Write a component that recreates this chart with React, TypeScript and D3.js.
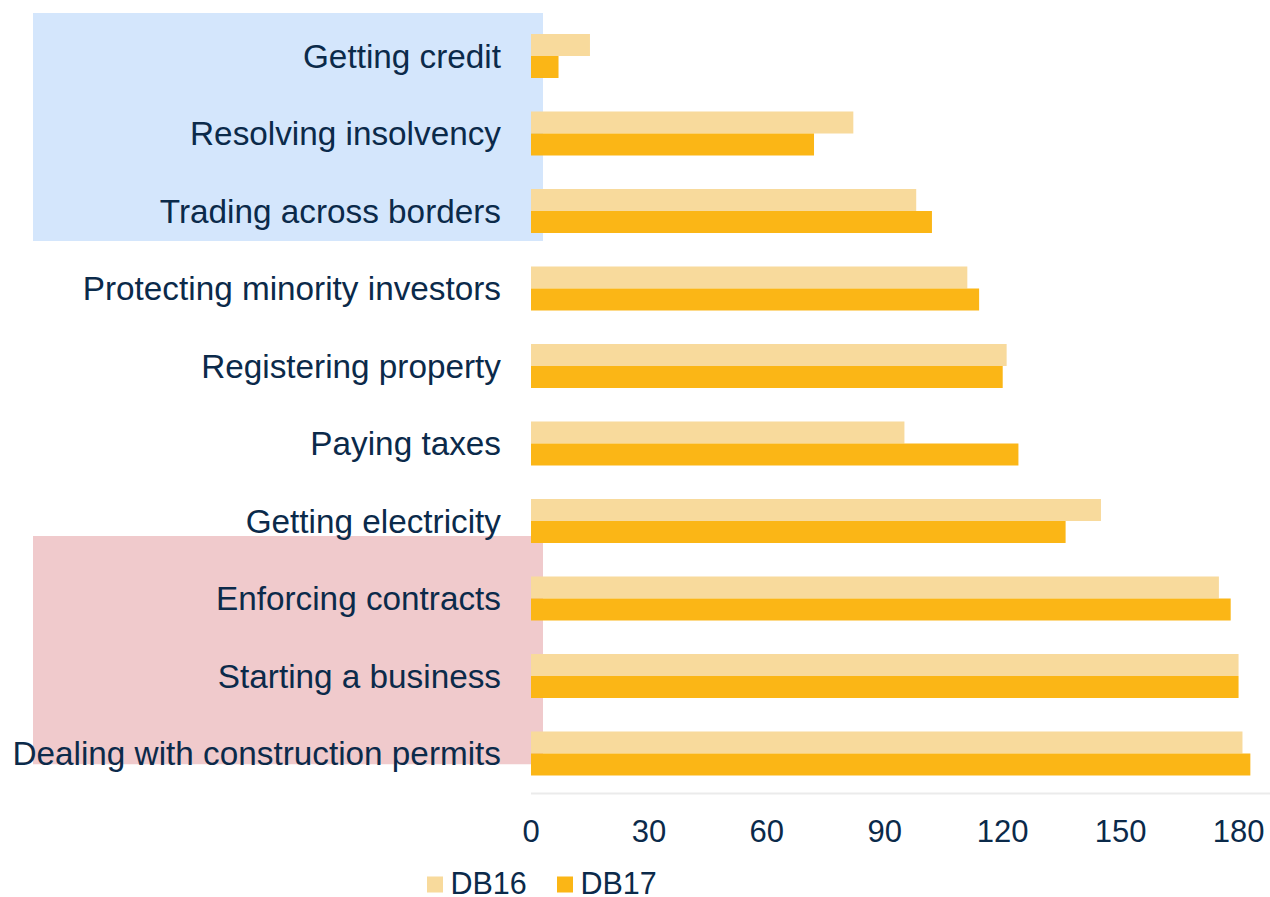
import React from "react";
import * as d3 from "d3";

const categories = [
  "Getting credit",
  "Resolving insolvency",
  "Trading across borders",
  "Protecting minority investors",
  "Registering property",
  "Paying taxes",
  "Getting electricity",
  "Enforcing contracts",
  "Starting a business",
  "Dealing with construction permits",
];
const db16 = [15, 82, 98, 111, 121, 95, 145, 175, 180, 181];
const db17 = [7, 72, 102, 114, 120, 124, 136, 178, 180, 183];
const tickValues = [0, 30, 60, 90, 120, 150, 180];
const seriesNames = ["DB16", "DB17"];
const seriesColors = ["#F8DA9C", "#FBB616"];

const W = 1270;
const H = 897;
const textColor = "#0B2A4A";
const font = "'Liberation Sans', Arial, sans-serif";

export default function App() {
  const x = d3.scaleLinear().domain([0, 188]).range([531, 1270]);
  const y = d3.scaleBand<string>().domain(categories).range([17.25, 792.25]).padding(0);
  const barH = 22;

  const blueTop = y(categories[0])! - 4.25;
  const blueBottom = y(categories[2])! + y.bandwidth() - 8.75;
  const pinkTop = y(categories[7])! - 23.75;
  const pinkBottom = y(categories[9])! + y.bandwidth() - 28;

  return (
    <svg
      width={W}
      height={H}
      style={{ position: "absolute", left: 0, top: 0, background: "#fff" }}
    >
      <rect x={33} y={blueTop} width={510} height={blueBottom - blueTop} fill="#D4E6FC" />
      <rect x={33} y={pinkTop} width={510} height={pinkBottom - pinkTop} fill="#F0CACC" />

      {categories.map((c, i) => {
        const cy = y(c)! + y.bandwidth() / 2;
        return (
          <g key={c}>
            <rect x={x(0)} y={cy - barH} width={x(db16[i]) - x(0)} height={barH} fill={seriesColors[0]} />
            <rect x={x(0)} y={cy} width={x(db17[i]) - x(0)} height={barH} fill={seriesColors[1]} />
            <text
              x={501}
              y={cy}
              textAnchor="end"
              dominantBaseline="central"
              fontFamily={font}
              fontSize={33.3}
              fill={textColor}
            >
              {c}
            </text>
          </g>
        );
      })}

      <line x1={x(0)} x2={1270} y1={793.5} y2={793.5} stroke="#EBEBEB" strokeWidth={2} />

      {tickValues.map((t) => (
        <text
          key={t}
          x={x(t)}
          y={831}
          textAnchor="middle"
          dominantBaseline="central"
          fontFamily={font}
          fontSize={31}
          fill={textColor}
        >
          {t}
        </text>
      ))}

      {seriesNames.map((s, i) => {
        const lx = i === 0 ? 427 : 557;
        return (
          <g key={s}>
            <rect x={lx} y={876.5} width={16} height={16} fill={seriesColors[i]} />
            <text
              x={lx + 23.5}
              y={882.5}
              dominantBaseline="central"
              fontFamily={font}
              fontSize={30.5}
              fill={textColor}
            >
              {s}
            </text>
          </g>
        );
      })}
    </svg>
  );
}
